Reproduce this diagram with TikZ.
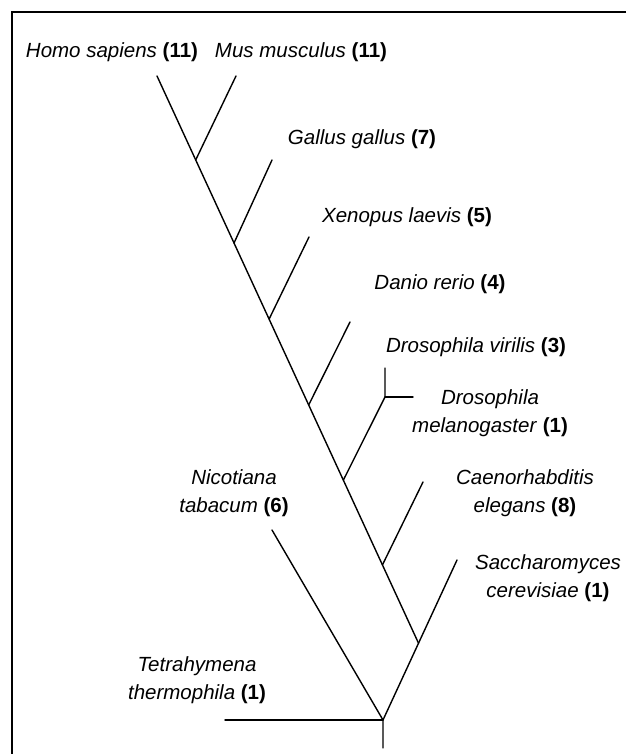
\documentclass[tikz,border=0pt]{standalone}
\usepackage{fontspec}
\setmainfont{Liberation Sans}
\usepackage{tikz}
\usetikzlibrary{positioning,calc}

\tikzset{
  taxon/.style={font=\fontsize{20.5}{28}\selectfont, align=center, inner sep=0pt, yshift=-2pt},
  branch/.style={line width=1.4pt, line cap=round}
}
\newcommand{\taxname}[2]{\textit{#1} \textbf{(#2)}}

\begin{document}
\begin{tikzpicture}[x=1pt,y=-1pt]
\useasboundingbox (0,0) rectangle (626,754);
\draw[line width=2pt] (626,12) -- (12,12) -- (12,754);

% root and the yeast branch
\coordinate (root) at (383,720);
\coordinate (base) at (383,748);
\coordinate (sacch) at (457,560);
\coordinate (j7) at ($(root)!0.48!(sacch)$);

% joints along the main stem
\coordinate (homo) at (157,76);
\coordinate (j1) at ($(homo)!0.148!(j7)$);
\coordinate (j2) at ($(homo)!0.2945!(j7)$);
\coordinate (j3) at ($(homo)!0.4286!(j7)$);
\coordinate (j4) at ($(homo)!0.580!(j7)$);
\coordinate (j5) at ($(homo)!0.7125!(j7)$);
\coordinate (j6) at ($(homo)!0.862!(j7)$);

% tips
\coordinate (mus) at (236,76);
\coordinate (gallus) at (272,160);
\coordinate (xenopus) at (309,237);
\coordinate (danio) at (350,322);
\coordinate (dros) at (385,397);
\coordinate (viril) at (385,368);
\coordinate (melano) at (413,397);
\coordinate (caeno) at (423,482);
\coordinate (nico) at (272,530);
\coordinate (tetra) at (225,720);

\draw[branch] (homo) -- (j7);
\draw[branch] (root) -- (sacch);
\draw[branch] (j1) -- (mus);
\draw[branch] (j2) -- (gallus);
\draw[branch] (j3) -- (xenopus);
\draw[branch] (j4) -- (danio);
\draw[branch] (j5) -- (dros) -- (viril);
\draw[branch] (dros) -- (melano);
\draw[branch] (j6) -- (caeno);
\draw[branch] (nico) -- (root) -- (base);
\draw[branch] (tetra) -- (root);

\node[taxon] (lhomo) at (112,50) {\taxname{Homo sapiens}{11}};
\node[taxon] (lmus) at (301,50) {\taxname{Mus musculus}{11}};
\node[taxon] (lgallus) at (362,137) {\taxname{Gallus gallus}{7}};
\node[taxon] (lxenopus) at (407,215) {\taxname{Xenopus laevis}{5}};
\node[taxon] (ldanio) at (440,282) {\taxname{Danio rerio}{4}};
\node[taxon] (lviril) at (476,345) {\taxname{Drosophila virilis}{3}};
\node[taxon] (lmelano) at (490,411) {\textit{Drosophila}\\\taxname{melanogaster}{1}};
\node[taxon] (lcaeno) at (525,491) {\textit{Caenorhabditis}\\\taxname{elegans}{8}};
\node[taxon] (lsacch) at (548,576) {\textit{Saccharomyces}\\\taxname{cerevisiae}{1}};
\node[taxon] (lnico) at (234,491) {\textit{Nicotiana}\\\taxname{tabacum}{6}};
\node[taxon] (ltetra) at (197,678) {\textit{Tetrahymena}\\\taxname{thermophila}{1}};
\end{tikzpicture}
\end{document}
